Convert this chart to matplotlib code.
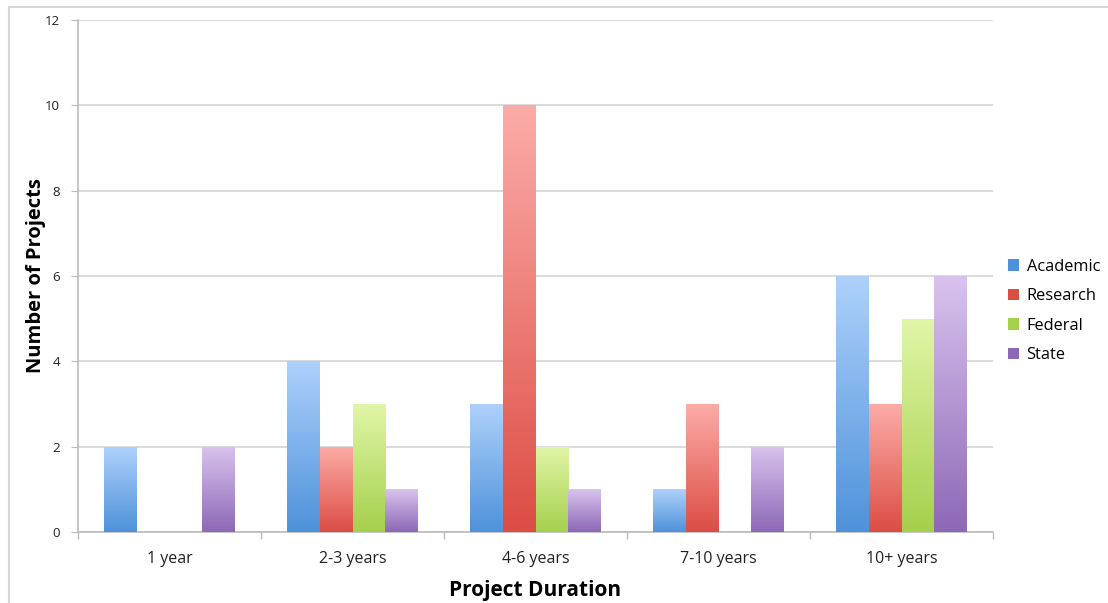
import numpy as np
import matplotlib
matplotlib.use("Agg")
import matplotlib.pyplot as plt
from matplotlib.colors import LinearSegmentedColormap
from matplotlib.patches import Patch
from matplotlib.lines import Line2D

categories = ["1 year", "2-3 years", "4-6 years", "7-10 years", "10+ years"]
series = ["Academic", "Research", "Federal", "State"]
academic = [2, 4, 3, 1, 6]
research = [0, 2, 10, 3, 3]
federal = [0, 3, 2, 0, 5]
state = [2, 1, 1, 2, 6]
values = [academic, research, federal, state]

# (top colour, bottom colour) for the gradient fill of each series
shades = [("#aed1fb", "#4e92da"),
          ("#fcaca8", "#dc4d44"),
          ("#e1f6a8", "#a5d04c"),
          ("#d9c3ee", "#8d68b6")]

plt.rcParams["font.family"] = ["Open Sans", "DejaVu Sans"]

fig = plt.figure(figsize=(11.08, 6.03), dpi=100)
ax = fig.add_axes([78 / 1108, 1 - 532 / 603, 915 / 1108, 512 / 603])

x = np.arange(len(categories))
w = 0.18
grad = np.linspace(1, 0, 256).reshape(-1, 1)

for i, (name, vals) in enumerate(zip(series, values)):
    top, bottom = shades[i]
    cmap = LinearSegmentedColormap.from_list(name, [bottom, top])
    bars = ax.bar(x + (i - 1.5) * w, vals, w, color="none", edgecolor="none", zorder=3)
    for b in bars:
        if b.get_height() <= 0:
            continue
        x0, y0 = b.get_x(), b.get_y()
        im = ax.imshow(grad, cmap=cmap, aspect="auto", zorder=3,
                       extent=[x0, x0 + b.get_width(), y0, y0 + b.get_height()],
                       origin="upper", interpolation="bilinear")
        im.set_clip_path(b)

ax.set_xlim(-0.5, len(categories) - 0.5)
ax.set_ylim(0, 12)
ax.set_yticks(range(0, 13, 2))
ax.yaxis.grid(True, color="#d4d4d4", linewidth=1.2, zorder=0)
ax.set_axisbelow(True)

ax.set_xticks(x)
ax.set_xticklabels(categories, fontsize=11.5, color="#222222")
ax.set_xticks(np.arange(-0.5, len(categories)), minor=True)
ax.tick_params(axis="x", which="major", length=0, pad=14)
ax.tick_params(axis="x", which="minor", length=5, color="#bbbbbb", width=1)
ax.tick_params(axis="y", length=5, color="#bbbbbb", labelsize=9.5, pad=8, labelcolor="#222222")

for s in ["top", "right"]:
    ax.spines[s].set_visible(False)
for s in ["left", "bottom"]:
    ax.spines[s].set_color("#bbbbbb")
    ax.spines[s].set_linewidth(1.2)

ax.set_xlabel("Project Duration", fontsize=15, fontweight="bold", labelpad=9)
ax.set_ylabel("Number of Projects", fontsize=14.5, fontweight="bold")
ax.yaxis.set_label_coords(-0.035, 0.5)

handles = [Patch(facecolor=shades[i][1], edgecolor="none") for i in range(len(series))]
leg = fig.legend(handles, series, loc="center left", bbox_to_anchor=(993 / 1108, 1 - 311 / 603),
                 frameon=False, fontsize=11.8, handlelength=0.7, handleheight=0.7,
                 handletextpad=0.45, labelspacing=0.82)

# thin frame along the top and left edges of the figure
fig.lines.append(Line2D([9 / 1108, 1], [1 - 7 / 603, 1 - 7 / 603], transform=fig.transFigure,
                        color="#d8d8d8", linewidth=1.5))
fig.lines.append(Line2D([9 / 1108, 9 / 1108], [0, 1 - 7 / 603], transform=fig.transFigure,
                        color="#d8d8d8", linewidth=1.5))

fig.savefig("out.png", dpi=100)
